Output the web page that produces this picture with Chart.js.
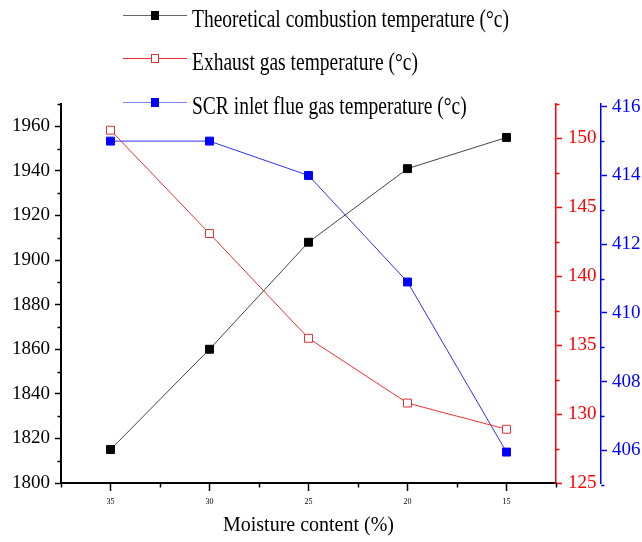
<!DOCTYPE html>
<html><head><meta charset="utf-8">
<script src="https://cdn.jsdelivr.net/npm/chart.js@4/dist/chart.umd.min.js"></script>
<style>html,body{margin:0;padding:0;background:#fff;}</style>
</head><body>
<canvas id="c" width="642" height="542"></canvas>
<script>
// ---- data ----
const categories = ['35', '30', '25', '20', '15'];
const combustionTemp = [1815, 1860, 1908, 1941, 1955];
const exhaustTemp = [150.6, 143.1, 135.5, 130.8, 128.9];
const scrInletTemp = [415.0, 415.0, 414.0, 410.9, 405.95];
const leftTicks = [1800, 1820, 1840, 1860, 1880, 1900, 1920, 1940, 1960];
const redTicks = [125, 130, 135, 140, 145, 150];
const blueTicks = [406, 408, 410, 412, 414, 416];
const seriesLabels = [
  'Theoretical combustion temperature (\u00B0c)',
  'Exhaust gas temperature (\u00B0c)',
  'SCR inlet flue gas temperature (\u00B0c)'
];
const xTitle = 'Moisture content (%)';

const SERIF = "'Liberation Serif', 'Times New Roman', serif";
const plain = v => String(v);

const minorTickPlugin = {
  id: 'minorTicks',
  afterDraw(chart) {
    const ctx = chart.ctx;
    const ca = chart.chartArea;
    ctx.save();
    ['y', 'y1', 'y2'].forEach(id => {
      const s = chart.scales[id];
      const majors = s.ticks.map(t => t.value);
      const step = majors[1] - majors[0];
      const color = s.options.border.color;
      const bx = s.position === 'left' ? s.right : s.left;
      const dir = s.position === 'left' ? -1 : 1;
      ctx.strokeStyle = color;
      ctx.lineWidth = 1.5;
      for (let v = majors[0] - step / 2; v <= s.max + step * 0.05; v += step) {
        if (v < s.min - step * 0.05) continue;
        const y = Math.round(s.getPixelForValue(v)) + 0.5;
        ctx.beginPath();
        ctx.moveTo(bx, y);
        ctx.lineTo(bx + dir * 3.5, y);
        ctx.stroke();
      }
    });
    const xs = chart.scales.x;
    const p0 = xs.getPixelForValue(0), p1 = xs.getPixelForValue(1);
    const w = p1 - p0;
    ctx.strokeStyle = '#000';
    for (let i = 0; i <= categories.length; i++) {
      const x = Math.round(p0 + (i - 0.5) * w) + 0.5;
      ctx.beginPath();
      ctx.moveTo(x, ca.bottom);
      ctx.lineTo(x, ca.bottom + 4.5);
      ctx.stroke();
    }
    ctx.restore();
  }
};

const legendPlugin = {
  id: 'stackedLegend',
  afterDraw(chart) {
    const ctx = chart.ctx;
    const rows = [15, 58, 102];
    ctx.save();
    chart.data.datasets.forEach((ds, i) => {
      const y = rows[i];
      const x0 = 123, x1 = 187, xm = 155;
      ctx.strokeStyle = ds.legendLineColor;
      ctx.lineWidth = 1;
      ctx.beginPath();
      ctx.moveTo(x0, y + 0.5);
      ctx.lineTo(x1, y + 0.5);
      ctx.stroke();
      ctx.fillStyle = ds.pointBackgroundColor;
      ctx.fillRect(xm - 3.5, y - 3.5, 7, 8);
      ctx.strokeStyle = ds.pointBorderColor;
      ctx.strokeRect(xm - 3.5, y - 3.5, 7, 8);
      ctx.fillStyle = '#000';
      ctx.font = '19.5px ' + SERIF;
      ctx.textBaseline = 'alphabetic';
      ctx.save();
      ctx.translate(192, y + 11.5);
      ctx.scale(1, 1.25);
      ctx.fillText(ds.label, 0, 0);
      ctx.restore();
    });
    ctx.restore();
  }
};

new Chart(document.getElementById('c'), {
  type: 'line',
  data: {
    labels: categories,
    datasets: [
      {
        label: seriesLabels[0], data: combustionTemp, yAxisID: 'y',
        borderColor: '#444', borderWidth: 1, legendLineColor: '#666',
        pointStyle: 'rect', pointRadius: 5.6, pointBorderWidth: 1,
        pointBackgroundColor: '#000', pointBorderColor: '#000', tension: 0
      },
      {
        label: seriesLabels[1], data: exhaustTemp, yAxisID: 'y1',
        borderColor: '#f03030', borderWidth: 1, legendLineColor: '#f03030',
        pointStyle: 'rect', pointRadius: 5.6, pointBorderWidth: 1,
        pointBackgroundColor: '#ffffff', pointBorderColor: '#e03030', tension: 0
      },
      {
        label: seriesLabels[2], data: scrInletTemp, yAxisID: 'y2',
        borderColor: '#3030f0', borderWidth: 1, legendLineColor: '#8080f0',
        pointStyle: 'rect', pointRadius: 5.6, pointBorderWidth: 1,
        pointBackgroundColor: '#0000ff', pointBorderColor: '#0000ff', tension: 0
      }
    ]
  },
  options: {
    responsive: false,
    animation: false,
    devicePixelRatio: 1,
    layout: { padding: { top: 104, left: 0, right: 0, bottom: 0 } },
    plugins: { legend: { display: false }, tooltip: { enabled: false } },
    scales: {
      x: {
        type: 'category', offset: true,
        grid: { display: true, drawOnChartArea: false, offset: false, tickLength: 8, color: '#000', tickWidth: 1.5 },
        border: { display: true, color: '#000', width: 2 },
        ticks: { color: '#000', font: { family: SERIF, size: 8 }, padding: 6, maxRotation: 0 },
        title: { display: true, text: xTitle, color: '#000', font: { family: SERIF, size: 20 }, padding: { top: 8, bottom: 4 } },
        afterFit: s => { s.height = 59; }
      },
      y: {
        position: 'left', min: 1800, max: 1970,
        afterBuildTicks: s => { s.ticks = leftTicks.map(v => ({ value: v })); },
        grid: { display: true, drawOnChartArea: false, tickLength: 6, color: '#000', tickWidth: 1.5 },
        border: { display: true, color: '#000', width: 2 },
        ticks: { color: '#000', font: { family: SERIF, size: 19 }, padding: 5, callback: plain },
        afterFit: s => { s.width = 61; }
      },
      y1: {
        position: 'right', min: 125, max: 152.5, weight: 0,
        afterBuildTicks: s => { s.ticks = redTicks.map(v => ({ value: v })); },
        grid: { display: true, drawOnChartArea: false, tickLength: 6, color: '#ff0000', tickWidth: 1.5 },
        border: { display: true, color: '#ff0000', width: 1.5 },
        ticks: { color: '#ff0000', font: { family: SERIF, size: 19 }, padding: 6, callback: plain },
        afterFit: s => { s.width = 45; }
      },
      y2: {
        position: 'right', min: 405.05, max: 416.08, weight: 1,
        afterBuildTicks: s => { s.ticks = blueTicks.map(v => ({ value: v })); },
        grid: { display: true, drawOnChartArea: false, tickLength: 6, color: '#0000ff', tickWidth: 1.5 },
        border: { display: true, color: '#0000ff', width: 1.5 },
        ticks: { color: '#0000ff', font: { family: SERIF, size: 19 }, padding: 5, callback: plain },
        afterFit: s => { s.width = 41; }
      }
    }
  },
  plugins: [minorTickPlugin, legendPlugin]
});
</script>
</body></html>
